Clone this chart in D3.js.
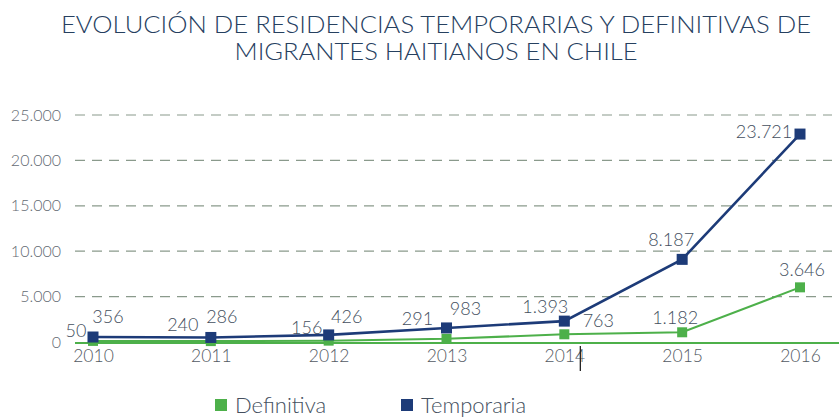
<!DOCTYPE html>
<html><head><meta charset="utf-8">
<script src="https://cdn.jsdelivr.net/npm/d3@7"></script>
<style>body{margin:0;background:#fff}svg{display:block}</style>
</head><body>
<svg id="c" width="839" height="417"></svg>
<script>
const years = ["2010","2011","2012","2013","2014","2015","2016"];
// plotted positions
const temporaria = [550, 500, 780, 1550, 2300, 9100, 22900];
const definitiva = [120, 100, 150, 350, 850, 1070, 6020];
// data labels as printed in the picture
const temporariaLabels = ["356","286","426","983","1.393","8.187","23.721"];
const definitivaLabels = ["50","240","156","291","763","1.182","3.646"];
const yTicks = [0, 5000, 10000, 15000, 20000, 25000];
const yTickLabels = ["0","5.000","10.000","15.000","20.000","25.000"];
const titleLines = ["EVOLUCIÓN DE RESIDENCIAS TEMPORARIAS Y DEFINITIVAS DE","MIGRANTES HAITIANOS EN CHILE"];
const seriesNames = ["Definitiva","Temporaria"];

const C_TEMP = "#1d3b78", C_DEF = "#4db04a", C_TXT = "#444f5e", C_TITLE = "#26405f";
const FONT = "Lato, 'Open Sans', sans-serif";
// label offsets (layout) relative to each marker
const tempOff = [[15,-14],[11,-14],[18,-12],[19,-13],[-19,-8],[-11,-13],[-36,4]];
const defOff  = [[-17,-4],[-28,-10],[-22,-7],[-29,-14],[34,-7],[-7,-8],[2,-11]];

const svg = d3.select("#c");
const x = d3.scalePoint().domain(years).range([93, 800]);
const y = d3.scaleLinear().domain([0, 25000]).range([342, 115]);

// title
svg.selectAll("text.title").data(titleLines).join("text")
  .attr("x", 436).attr("y", (d,i)=> 33 + i*27)
  .attr("text-anchor","middle").attr("font-family",FONT).attr("font-size",24).attr("font-weight",300)
  .attr("fill",C_TITLE)
  .attr("textLength",(d,i)=> i===0 ? 750 : 403).attr("lengthAdjust","spacingAndGlyphs")
  .text(d=>d);

// y axis labels
const yAxis = d3.axisLeft(y).tickValues(yTicks).tickFormat((d,i)=>yTickLabels[i])
  .tickSize(0).tickPadding(0);
const gy = svg.append("g").attr("transform","translate(61,0)").call(yAxis);
gy.select(".domain").remove();
gy.selectAll("text").attr("font-family",FONT).attr("font-size",16).attr("font-weight",300).attr("fill","#646a73");

// gridlines
svg.append("g").selectAll("line").data(yTicks.filter(d=>d>0)).join("line")
  .attr("x1",75).attr("x2",832).attr("y1",d=>y(d)).attr("y2",d=>y(d))
  .attr("stroke","#8a9a8c").attr("stroke-width",1.2).attr("stroke-dasharray","10,7");

// baseline
svg.append("line").attr("x1",75).attr("x2",839).attr("y1",y(0)+1).attr("y2",y(0)+1)
  .attr("stroke",C_DEF).attr("stroke-width",2.2);

// x axis labels
const xAxis = d3.axisBottom(x).tickSize(0).tickPadding(0);
const gx = svg.append("g").attr("transform","translate(0,350)").call(xAxis);
gx.select(".domain").remove();
gx.selectAll("text").attr("font-family",FONT).attr("font-size",17.5).attr("font-weight",300).attr("fill","#535a63");
// cursor-like mark seen near 2014
svg.append("line").attr("x1",x("2014")+16).attr("x2",x("2014")+16).attr("y1",346).attr("y2",371)
  .attr("stroke","#222").attr("stroke-width",1.3);

const line = d3.line().x((d,i)=>x(years[i])).y(d=>y(d));

// definitiva series
svg.append("path").datum(definitiva).attr("d",line).attr("fill","none")
  .attr("stroke",C_DEF).attr("stroke-width",2);
svg.append("g").selectAll("rect").data(definitiva).join("rect")
  .attr("x",(d,i)=>x(years[i])-5).attr("y",d=>y(d)-5).attr("width",10).attr("height",10)
  .attr("fill",C_DEF);

// temporaria series
svg.append("path").datum(temporaria).attr("d",line).attr("fill","none")
  .attr("stroke",C_TEMP).attr("stroke-width",2.6);
svg.append("g").selectAll("rect").data(temporaria).join("rect")
  .attr("x",(d,i)=>x(years[i])-5.5).attr("y",d=>y(d)-5.5).attr("width",11).attr("height",11)
  .attr("fill",C_TEMP);

// data labels
svg.append("g").selectAll("text").data(definitivaLabels).join("text")
  .attr("x",(d,i)=>x(years[i])+defOff[i][0]).attr("y",(d,i)=>y(definitiva[i])+defOff[i][1])
  .attr("text-anchor","middle").attr("font-family",FONT).attr("font-size",18).attr("font-weight",300).attr("fill",C_TXT)
  .text(d=>d);
svg.append("g").selectAll("text").data(temporariaLabels).join("text")
  .attr("x",(d,i)=>x(years[i])+tempOff[i][0]).attr("y",(d,i)=>y(temporaria[i])+tempOff[i][1])
  .attr("text-anchor","middle").attr("font-family",FONT).attr("font-size",18).attr("font-weight",300).attr("fill",C_TXT)
  .text(d=>d);

// legend
const legX = [215, 401];
const lg = svg.append("g").selectAll("g").data(seriesNames).join("g")
  .attr("transform",(d,i)=>`translate(${legX[i]},398)`);
lg.append("rect").attr("width",12).attr("height",12).attr("y",1)
  .attr("fill",(d,i)=> i===0 ? C_DEF : C_TEMP);
lg.append("text").attr("x",20).attr("y",14.5).attr("font-family",FONT).attr("font-size",22).attr("font-weight",300)
  .attr("fill",C_TXT).text(d=>d);
</script>
</body></html>
